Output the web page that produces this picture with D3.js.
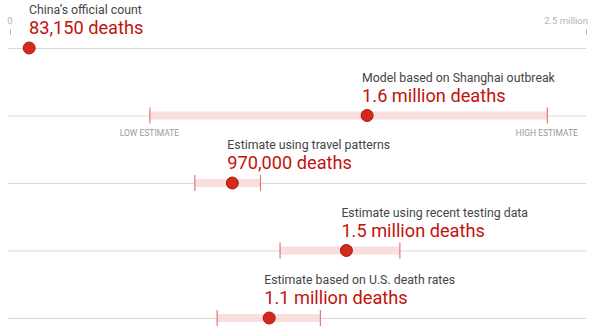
<!DOCTYPE html>
<html><head><meta charset="utf-8">
<script src="https://cdn.jsdelivr.net/npm/d3@7"></script>
<style>body{margin:0;background:#fff}svg{display:block}</style>
</head><body>
<svg id="c" width="600" height="328"></svg>
<script>
const labels = ["China’s official count","Model based on Shanghai outbreak","Estimate using travel patterns","Estimate using recent testing data","Estimate based on U.S. death rates"];
const valueTexts = ["83,150 deaths","1.6 million deaths","970,000 deaths","1.5 million deaths","1.1 million deaths"];
const values = [83150, 1550000, 965000, 1460000, 1125000];
const lows = [null, 605000, 800000, 1170000, 897000];
const highs = [null, 2330000, 1085000, 1690000, 1345000];
const axisTicks = [0, 2500000];
const axisTickLabels = ["0", "2.5 million"];

const svg = d3.select("#c");
const x = d3.scaleLinear().domain([0, 2500000]).range([10, 586]);
const y = d3.scalePoint().domain(d3.range(labels.length)).range([48, 318]);
const font = "Roboto, 'Liberation Sans', sans-serif";

// axis ticks
const ax = svg.append("g");
axisTicks.forEach((t,i)=>{
  ax.append("text").attr("x", x(t) + (i===0?0:2)).attr("y", 23.5)
    .attr("text-anchor", i===0?"middle":"end")
    .attr("font-family", font).attr("font-size", 9.5).attr("fill","#b5b5b5").text(axisTickLabels[i]);
  ax.append("line").attr("x1", x(t)+0.5).attr("x2", x(t)+0.5).attr("y1", 29).attr("y2", 35)
    .attr("stroke","#bbb").attr("stroke-width",1);
});

labels.forEach((lab,i)=>{
  const g = svg.append("g");
  const cy = y(i);
  g.append("line").attr("x1", 8).attr("x2", 586).attr("y1", cy+0.5).attr("y2", cy+0.5)
    .attr("stroke","#d8d8d8").attr("stroke-width",1);
  if (lows[i] !== null) {
    g.append("rect").attr("x", x(lows[i])).attr("y", cy-4).attr("width", x(highs[i])-x(lows[i])).attr("height", 8)
      .attr("fill","#f9dede");
    [lows[i], highs[i]].forEach(v=>{
      g.append("line").attr("x1", x(v)+0.5).attr("x2", x(v)+0.5).attr("y1", cy-8).attr("y2", cy+8)
        .attr("stroke","#df7a7a").attr("stroke-width",1.2);
    });
  }
  g.append("circle").attr("cx", x(values[i])).attr("cy", cy).attr("r", 6)
    .attr("fill","#d32a1e").attr("stroke","#b3140c").attr("stroke-width",1);
  const tx = Math.max(x(values[i]) - 5, 29);
  g.append("text").attr("x", tx).attr("y", cy-34).attr("font-family", font).attr("font-size", 12.3)
    .attr("fill","#444").text(lab);
  g.append("text").attr("x", tx).attr("y", cy-14).attr("font-family", font).attr("font-size", 18.2)
    .attr("fill","#c2120c").text(valueTexts[i]);
  if (i === 1) {
    g.append("text").attr("x", x(lows[i])).attr("y", cy+20).attr("text-anchor","middle")
      .attr("font-family", font).attr("font-size", 8.5).attr("fill","#999").text("LOW ESTIMATE");
    g.append("text").attr("x", x(highs[i])).attr("y", cy+20).attr("text-anchor","middle")
      .attr("font-family", font).attr("font-size", 8.5).attr("fill","#999").text("HIGH ESTIMATE");
  }
});
</script>
</body></html>
